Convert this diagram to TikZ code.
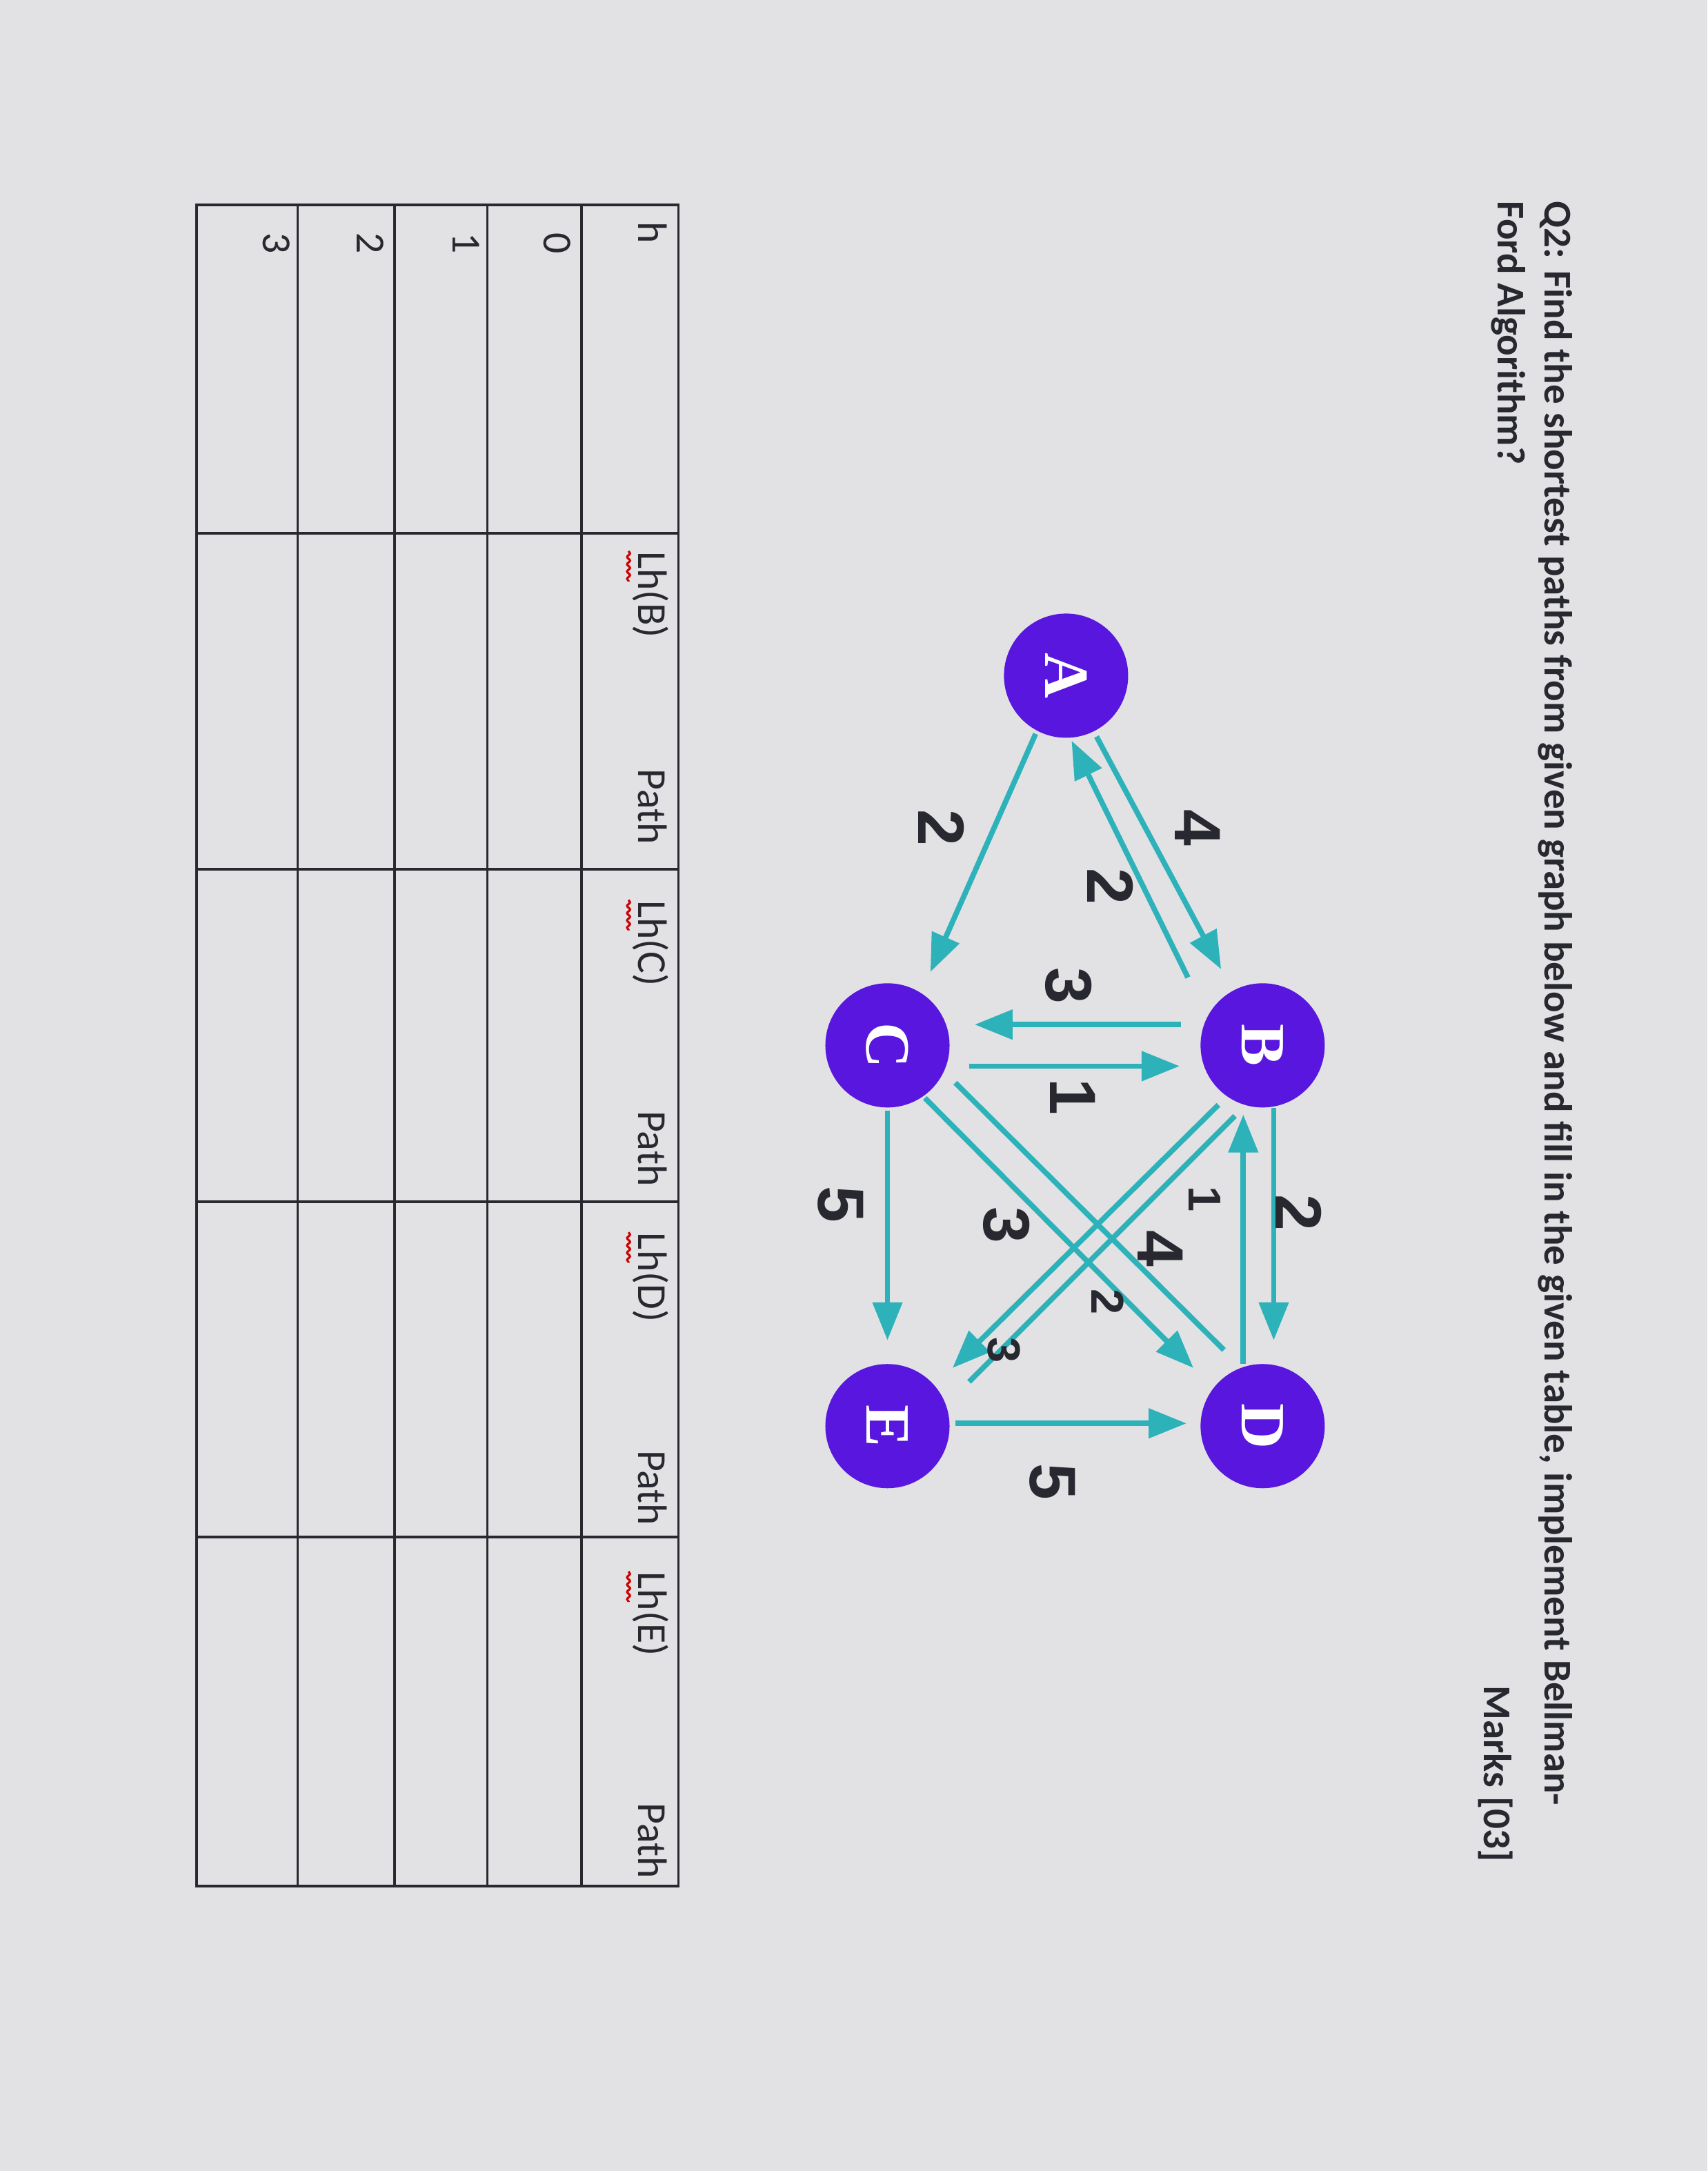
\documentclass[tikz,border=0pt]{standalone}
\usepackage{fontspec}
\setmainfont{Carlito}
\newfontfamily\arialf{Liberation Sans}
\newfontfamily\serff{Liberation Serif}
\usetikzlibrary{arrows.meta,decorations.pathmorphing}
\definecolor{bg}{RGB}{226,226,228}
\definecolor{teal}{RGB}{45,178,186}
\definecolor{vert}{RGB}{88,22,222}
\definecolor{ink}{RGB}{40,40,48}
\tikzset{
 vx/.style={circle,fill=vert,minimum size=1.8cm,inner sep=0pt,text=white,font=\serff\bfseries\fontsize{26}{26}\selectfont,rotate=-90},
 ed/.style={draw=teal,line width=2.2pt,-{Triangle[length=0.55cm,width=0.42cm]}},
 edp/.style={draw=teal,line width=2.2pt},
 wl/.style={font=\arialf\bfseries\fontsize{27}{27}\selectfont,text=ink,rotate=-90},
 wls/.style={font=\arialf\bfseries\fontsize{19}{19}\selectfont,text=ink,rotate=-90},
 tt/.style={font=\bfseries\fontsize{16.2}{16.2}\selectfont,text=ink,rotate=-90,anchor=base west,inner sep=0pt},
 hd/.style={font=\fontsize{17}{17}\selectfont,text=ink,rotate=-90,anchor=base west,inner sep=0pt},
 grid/.style={draw=ink,line width=1.1pt},
 sq/.style={draw=red!80!black,line width=0.9pt,decorate,decoration={snake,amplitude=0.6pt,segment length=3pt}}
}
\begin{document}
\begin{tikzpicture}[x=0.02007cm,y=-0.02007cm]
\fill[bg] (0,0) rectangle (1233.2,1568);
% title
\node[tt] (t1) at (1116,145) {Q2: Find the shortest paths from given graph below and fill in the given table, implement Bellman-};
\node[tt] (t2) at (1082,145) {Ford Algorithm?};
\node[tt,anchor=base east] (mk) at (1072,1345) {Marks [03]};
% nodes
\node[vx] (A) at (770,488) {A};
\node[vx] (B) at (912,755) {B};
\node[vx] (C) at (641,755) {C};
\node[vx] (D) at (912,1030) {D};
\node[vx] (E) at (641,1030) {E};
% edges
\coordinate (ab1) at (792,532); \coordinate (ab2) at (882,700);
\draw[ed] (ab1) -- (ab2);
\coordinate (ba1) at (858,706); \coordinate (ba2) at (774,535);
\draw[ed] (ba1) -- (ba2);
\coordinate (ac1) at (748,530); \coordinate (ac2) at (672,702);
\draw[ed] (ac1) -- (ac2);
\coordinate (bc1) at (853,740); \coordinate (bc2) at (704,740);
\draw[ed] (bc1) -- (bc2);
\coordinate (cb1) at (700,770); \coordinate (cb2) at (852,770);
\draw[ed] (cb1) -- (cb2);
\coordinate (bd1) at (920,800); \coordinate (bd2) at (920,968);
\draw[ed] (bd1) -- (bd2);
\coordinate (db1) at (898,985); \coordinate (db2) at (898,805);
\draw[ed] (db1) -- (db2);
\coordinate (cd1) at (668,793); \coordinate (cd2) at (862,988);
\draw[ed] (cd1) -- (cd2);
\coordinate (dc1) at (884,975); \coordinate (dc2) at (690,782);
\draw[edp] (dc1) -- (dc2);
\coordinate (be1) at (880,798); \coordinate (be2) at (688,988);
\draw[ed] (be1) -- (be2);
\coordinate (eb1) at (700,998); \coordinate (eb2) at (892,806);
\draw[edp] (eb1) -- (eb2);
\coordinate (ce1) at (641,802); \coordinate (ce2) at (641,968);
\draw[ed] (ce1) -- (ce2);
\coordinate (ed1) at (690,1028); \coordinate (ed2) at (857,1028);
\draw[ed] (ed1) -- (ed2);
% weights
\node[wl] (w1) at (865,598) {4};
\node[wl] (w2) at (802,640) {2};
\node[wl] (w3) at (680,598) {2};
\node[wl] (w4) at (772,712) {3};
\node[wl] (w5) at (775,792) {1};
\node[wl] (w6) at (938,876) {2};
\node[wls] (w7) at (870,866) {1};
\node[wl] (w8) at (727,885) {3};
\node[wl] (w9) at (838,902) {4};
\node[wls] (w10) at (800,940) {2};
\node[wls] (w11) at (725,975) {3};
\node[wl] (w12) at (607,870) {5};
\node[wl] (w13) at (760,1070) {5};
% table
\draw[grid] (142,148) rectangle (490,1362);
\foreach \xx in {420,352,285,215}{\draw[grid] (\xx,148) -- (\xx,1362);}
\foreach \yy in {385,628,868,1110}{\draw[grid] (142,\yy) -- (490,\yy);}
\node[hd] (h0) at (461,160) {h};
\node[hd] (hb) at (461,398) {Lh(B)};
\node[hd] (pb) at (461,555) {Path};
\node[hd] (hc) at (461,650) {Lh(C)};
\node[hd] (pc) at (461,802) {Path};
\node[hd] (hdd) at (461,890) {Lh(D)};
\node[hd] (pd) at (461,1047) {Path};
\node[hd] (he) at (461,1135) {Lh(E)};
\node[hd] (pe) at (461,1302) {Path};
\foreach \yy in {398,650,890,1135}{\draw[sq] (454,\yy) -- (454,\yy+22);}
\node[hd] (r0) at (393,168) {0};
\node[hd] (r1) at (327,168) {1};
\node[hd] (r2) at (258,168) {2};
\node[hd] (r3) at (190,168) {3};
\end{tikzpicture}
\end{document}
